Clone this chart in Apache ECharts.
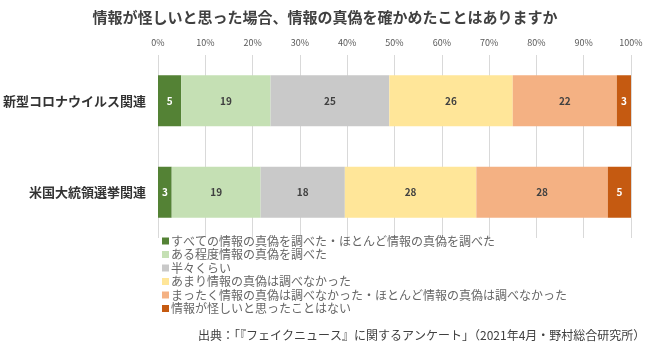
<!DOCTYPE html>
<html lang="ja">
<head>
<meta charset="UTF-8">
<title>情報の真偽</title>
<script src="https://cdn.jsdelivr.net/npm/echarts@6/dist/echarts.min.js"></script>
<style>
  html, body { margin: 0; padding: 0; background: #fff; }
  #chart { width: 650px; height: 351px; }
</style>
</head>
<body>
<div id="chart"></div>
<script>
// カテゴリ
var categories = ['新型コロナウイルス関連', '米国大統領選挙関連'];
// 回答（%）
var seriesNames = [
    'すべての情報の真偽を調べた・ほとんど情報の真偽を調べた',
    'ある程度情報の真偽を調べた',
    '半々くらい',
    'あまり情報の真偽は調べなかった',
    'まったく情報の真偽は調べなかった・ほとんど情報の真偽は調べなかった',
    '情報が怪しいと思ったことはない'
];
var allChecked   = [4.9, 2.9];
var someChecked  = [18.9, 18.8];
var halfChecked  = [25.1, 17.8];
var rarelyChecked = [26.1, 27.8];
var neverChecked = [22.0, 27.8];
var neverDoubted = [3.0, 4.9];
var colors = ['#548235', '#C5E0B4', '#C9C9C9', '#FFE699', '#F4B183', '#C55A11'];
var labelColors = ['#ffffff', '#404040', '#404040', '#404040', '#404040', '#ffffff'];

var chart = echarts.init(document.getElementById('chart'));
var font = '"Noto Sans CJK JP", "Noto Sans", sans-serif';
var values = [allChecked, someChecked, halfChecked, rarelyChecked, neverChecked, neverDoubted];

var series = values.map(function (v, i) {
    return {
        name: seriesNames[i],
        type: 'bar',
        stack: 'total',
        barWidth: 51,
        data: v,
        itemStyle: { color: colors[i] },
        label: {
            show: true,
            position: 'inside',
            color: labelColors[i],
            fontSize: 10,
            fontWeight: 'bold',
            fontFamily: font,
            formatter: function (p) { return Math.round(p.value); }
        }
    };
});

var option = {
    animation: false,
    textStyle: { fontFamily: font },
    title: [{
        text: '情報が怪しいと思った場合、情報の真偽を確かめたことはありますか',
        left: 'center',
        top: 5,
        textStyle: { fontSize: 15, fontWeight: 'bold', color: '#404040', fontFamily: font }
    }, {
        text: '出典：「『フェイクニュース』に関するアンケート」（2021年4月・野村総合研究所）',
        left: 193,
        top: 324,
        textStyle: { fontSize: 12, fontWeight: 'normal', color: '#404040', fontFamily: font }
    }],
    legend: {
        orient: 'vertical',
        left: 157,
        top: 230,
        itemWidth: 7,
        itemHeight: 7,
        itemGap: 1.5,
        icon: 'rect',
        textStyle: { fontSize: 12, color: '#666666', fontFamily: font, padding: [0, 0, 0, -3] },
        data: seriesNames
    },
    grid: { left: 157, right: 19, top: 55, height: 183 },
    xAxis: {
        type: 'value',
        position: 'top',
        min: 0,
        max: 100,
        interval: 10,
        axisLine: { show: false },
        axisTick: { show: false },
        axisLabel: { formatter: '{value}%', fontSize: 9, color: '#595959', margin: 8 },
        splitLine: { lineStyle: { color: '#D9D9D9' } }
    },
    yAxis: {
        type: 'category',
        inverse: true,
        data: categories,
        axisLine: { show: false },
        axisTick: { show: false },
        axisLabel: { fontSize: 13, fontWeight: 'bold', color: '#333333', margin: 12 }
    },
    series: series
};
chart.setOption(option);
</script>
</body>
</html>
